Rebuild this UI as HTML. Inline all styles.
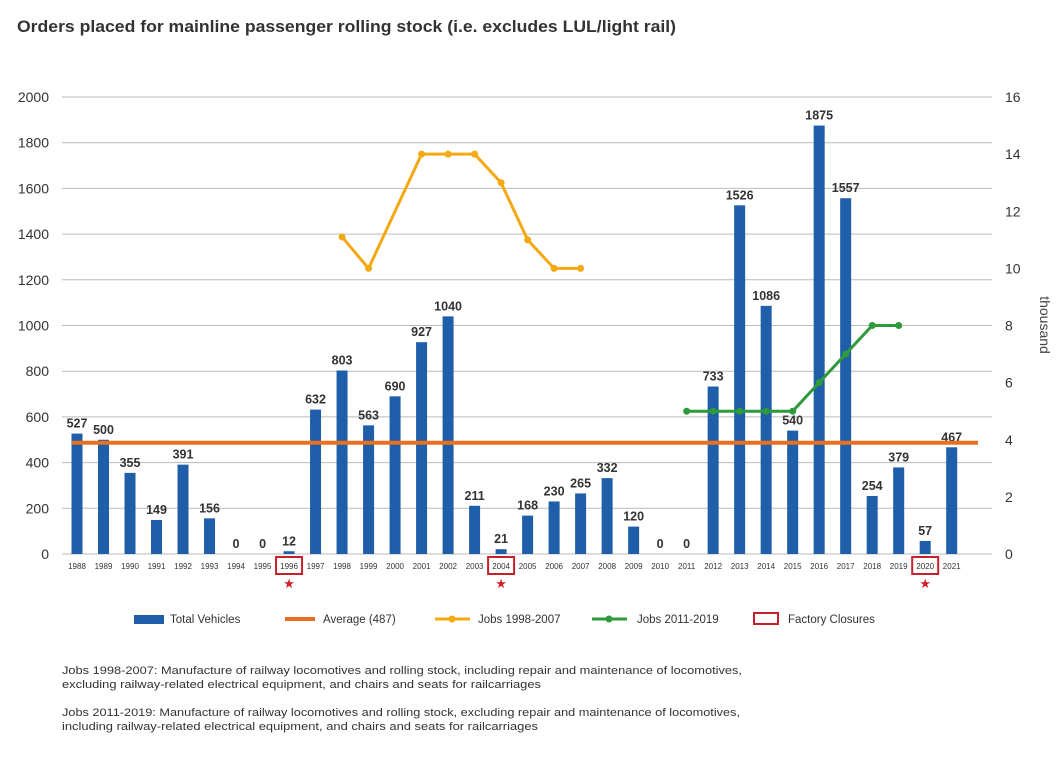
<!DOCTYPE html>
<html><head><meta charset="utf-8">
<style>
body{margin:0;background:#fff;width:1062px;height:762px;overflow:hidden;font-family:"Liberation Sans",sans-serif;}
svg{position:absolute;left:0;top:0}
</style></head>
<body>
<svg id="c" width="1062" height="762">
<text x="17" y="32" font-size="17" font-weight="bold" fill="#333" textLength="659" lengthAdjust="spacingAndGlyphs">Orders placed for mainline passenger rolling stock (i.e. excludes LUL/light rail)</text>
<text transform="translate(1040,325) rotate(90)" font-size="14" fill="#444" text-anchor="middle">thousand</text>
<g font-size="11.5" fill="#333">
<rect x="134" y="615" width="30" height="9" fill="#1f5ea8"/>
<text x="170" y="623">Total Vehicles</text>
<rect x="285" y="617" width="30" height="4" fill="#e8701e"/>
<text x="323" y="623">Average (487)</text>
<line x1="435" y1="619" x2="470" y2="619" stroke="#f3a912" stroke-width="3"/><circle cx="452" cy="619" r="3.5" fill="#f3a912"/>
<text x="478" y="623">Jobs 1998-2007</text>
<line x1="592" y1="619" x2="627" y2="619" stroke="#2e9a3c" stroke-width="3"/><circle cx="609" cy="619" r="3.5" fill="#2e9a3c"/>
<text x="637" y="623">Jobs 2011-2019</text>
<rect x="754" y="613" width="24" height="11" fill="none" stroke="#c8202a" stroke-width="2"/>
<text x="788" y="623">Factory Closures</text>
</g>
<g font-size="11" fill="#333" lengthAdjust="spacingAndGlyphs">
<text x="62" y="674" textLength="680" lengthAdjust="spacingAndGlyphs">Jobs 1998-2007: Manufacture of railway locomotives and rolling stock, including repair and maintenance of locomotives,</text>
<text x="62" y="688" textLength="479" lengthAdjust="spacingAndGlyphs">excluding railway-related electrical equipment, and chairs and seats for railcarriages</text>
<text x="62" y="716" textLength="678" lengthAdjust="spacingAndGlyphs">Jobs 2011-2019: Manufacture of railway locomotives and rolling stock, excluding repair and maintenance of locomotives,</text>
<text x="62" y="730" textLength="476" lengthAdjust="spacingAndGlyphs">including railway-related electrical equipment, and chairs and seats for railcarriages</text>
</g>
</svg>
<script>
const years=[1988,1989,1990,1991,1992,1993,1994,1995,1996,1997,1998,1999,2000,2001,2002,2003,2004,2005,2006,2007,2008,2009,2010,2011,2012,2013,2014,2015,2016,2017,2018,2019,2020,2021];
const vehicles=[527,500,355,149,391,156,0,0,12,632,803,563,690,927,1040,211,21,168,230,265,332,120,0,0,733,1526,1086,540,1875,1557,254,379,57,467];
const average=487;
const jobsAYears=[1998,1999,2000,2001,2002,2003,2004,2005,2006,2007];
const jobsA=[11.1,10,12,14,14,14,13,11,10,10];
const jobsBYears=[2011,2012,2013,2014,2015,2016,2017,2018,2019];
const jobsB=[5,5,5,5,5,6,7,8,8];
const closures=[1996,2004,2020];
const leftTicks=[0,200,400,600,800,1000,1200,1400,1600,1800,2000];
const rightTicks=[0,2,4,6,8,10,12,14,16];

const NS='http://www.w3.org/2000/svg',svg=document.getElementById('c');
const x=y=>77+(y-1988)*(951.7-77)/33;
const yL=v=>554-v*457/2000;
const yR=v=>554-v*457/16;
function mk(t,a,p){const e=document.createElementNS(NS,t);for(const k in a)e.setAttribute(k,a[k]);(p||svg).appendChild(e);return e;}
leftTicks.forEach(v=>{
  const g=mk('line',{x1:62,x2:992,y1:yL(v),y2:yL(v),stroke:'#bbb','stroke-width':1});
  
  
  const t=mk('text',{x:49,y:yL(v)+5,'font-size':14,fill:'#333','text-anchor':'end'});t.textContent=v;
  
  
});
rightTicks.forEach(v=>{
  const t=mk('text',{x:1005,y:yR(v)+5,'font-size':14,fill:'#333'});t.textContent=v;
  
  
});
years.forEach((yr,i)=>{
  const v=vehicles[i],cx=x(yr);
  const b=mk('rect',{x:cx-5.5,y:yL(v),width:11,height:554-yL(v),fill:'#1f5ea8'});
  
  
  const l=mk('text',{x:cx,y:yL(v)-6,'font-size':12.5,'font-weight':'bold',fill:'#333','text-anchor':'middle'});l.textContent=v;
  
  
  const t=mk('text',{x:cx,y:569,'font-size':8,fill:'#333','text-anchor':'middle'});t.textContent=yr;
  
  
});
closures.forEach(yr=>{
  const r=mk('rect',{x:x(yr)-13,y:557,width:26,height:17,fill:'none',stroke:'#c8202a','stroke-width':2});
  
  
  const s=mk('text',{x:x(yr),y:588,'font-size':13,fill:'#d0202a','text-anchor':'middle'});s.textContent='★';
  
  
});
const avg=mk('line',{x1:72,x2:978,y1:yL(average),y2:yL(average),stroke:'#e8701e','stroke-width':4});


function series(ys,vals,col,name,skip){
  const p=mk('polyline',{points:ys.map((yr,i)=>x(yr)+','+yR(vals[i])).join(' '),fill:'none',stroke:col,'stroke-width':3,'stroke-linejoin':'round'});
  
  
  ys.forEach((yr,i)=>{if(skip&&skip.includes(yr))return;const c=mk('circle',{cx:x(yr),cy:yR(vals[i]),r:3.5,fill:col});
    
    });
}
series(jobsAYears,jobsA,'#f3a912','jobs-1998-2007',[2000]);
series(jobsBYears,jobsB,'#2e9a3c','jobs-2011-2019');
</script>
</body></html>
